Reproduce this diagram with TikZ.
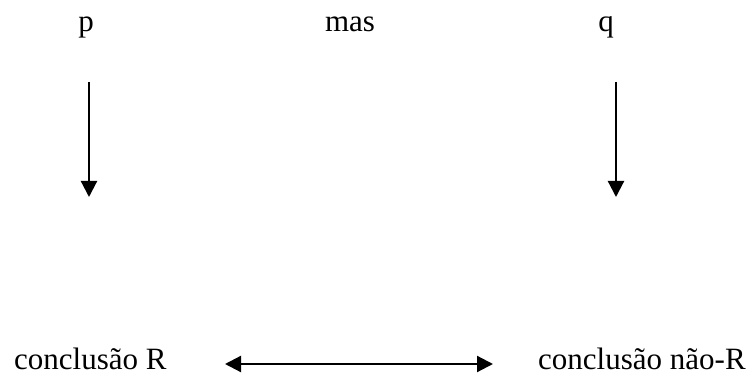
\documentclass[tikz,border=0pt]{standalone}
\usepackage{fontspec}
\setmainfont{Liberation Serif}
\usetikzlibrary{arrows.meta}
\begin{document}
\begin{tikzpicture}[x=1pt,y=-1pt,
  lbl/.style={inner sep=0pt,anchor=base,font=\fontsize{31}{36}\selectfont},
  tip/.tip={Triangle[length=16pt,width=16pt]},
  arr/.style={line width=2.2pt,-tip},
  darr/.style={line width=2.2pt,tip-tip}]
  \useasboundingbox (0,0) rectangle (756,379);
  % top row
  \node[lbl] (p) at (86,32) {p};
  \node[lbl] (mas) at (350,32) {mas};
  \node[lbl] (q) at (606,32) {q};
  % arrow end points
  \coordinate (pa) at (89,82);
  \coordinate (pb) at (89,197);
  \coordinate (qa) at (616,82);
  \coordinate (qb) at (616,197);
  \draw[arr] (pa) -- (pb);
  \draw[arr] (qa) -- (qb);
  % bottom row
  \node[lbl,anchor=base west] (cr) at (14,370) {conclusão R};
  \node[lbl,anchor=base west] (cnr) at (538,370) {conclusão não-R};
  \coordinate (dl) at (225,364);
  \coordinate (dr) at (493,364);
  \draw[darr] (dl) -- (dr);
\end{tikzpicture}
\end{document}
